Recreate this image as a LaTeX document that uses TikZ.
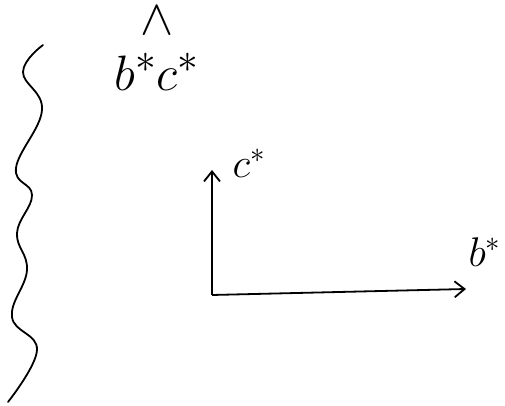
\documentclass[tikz,border=0pt]{standalone}
\usepackage{amsmath}
\usetikzlibrary{arrows.meta}
\begin{document}
\begin{tikzpicture}[
  x=0.5pt,y=-0.5pt,
  every node/.style={inner sep=0pt},
  axis/.style={-{Straight Barb[length=5pt,width=8pt]},line width=0.9pt},
  wave/.style={line width=0.9pt,line cap=round},
  biglbl/.style={font=\fontsize{28}{30}\selectfont},
  axlbl/.style={font=\fontsize{22}{24}\selectfont}
]
\useasboundingbox (0,0) rectangle (505,406);
% wavy boundary on the left
\draw[wave] plot[smooth,tension=0.7] coordinates
  {(43,45) (23,72) (42,110) (16,168) (32,195) (17,233) (27,270) (12,317) (37,350) (8,402)};

\node[biglbl,anchor=base] (angle) at (157,91) {$\overset{\displaystyle\wedge}{\rule{0pt}{0.84em}b^*c^*}$};

% axes
\coordinate (origin) at (212,295);
\coordinate (ctip) at (212,170);
\coordinate (btip) at (466,289);
\draw[axis] (origin) -- (ctip);
\draw[axis] (origin) -- (btip);
\node[axlbl] (clbl) at (249,163) {$c^*$};
\node[axlbl] (blbl) at (485,252) {$b^*$};
\end{tikzpicture}
\end{document}
